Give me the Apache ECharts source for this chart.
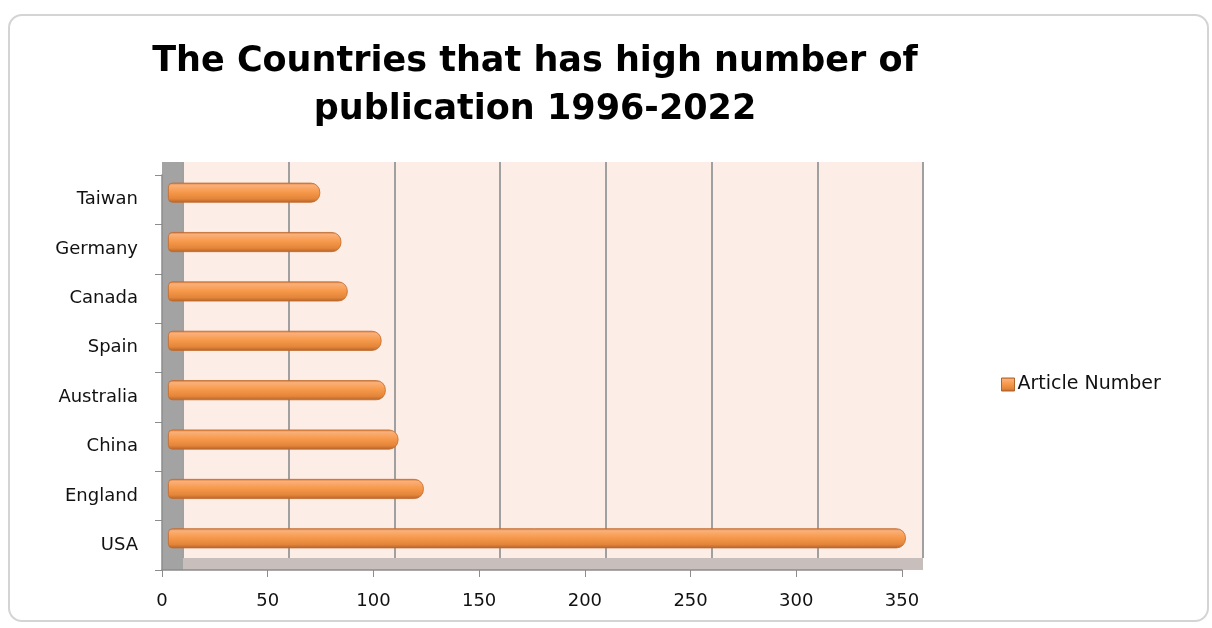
<!DOCTYPE html>
<html><head><meta charset="utf-8">
<script src="https://cdn.jsdelivr.net/npm/echarts@6/dist/echarts.min.js"></script>
<style>
html,body{margin:0;padding:0;background:#fff;}
#c{width:1212px;height:628px;position:absolute;left:0;top:0;}
#frame{position:absolute;left:8px;top:14px;width:1197px;height:604px;border:2px solid #d4d4d4;border-radius:14px;pointer-events:none;}
</style></head>
<body>
<div id="c"></div>
<div id="frame"></div>
<script>
const titleText = 'The Countries that has high number of\npublication 1996-2022';
const categories = ['USA','England','China','Australia','Spain','Canada','Germany','Taiwan'];
const articleNumber = [349, 121, 109, 103, 101, 85, 82, 72];
const seriesName = 'Article Number';
const axisMin = 0, axisMax = 350, axisStep = 50;

const chart = echarts.init(document.getElementById('c'));
const labelFont = {fontFamily:'DejaVu Sans, sans-serif', fontSize:18, color:'#111'};
chart.setOption({
  backgroundColor:'#fff',
  animation:false,
  title:{text:titleText,left:530,textAlign:'center',top:33,
    textStyle:{fontFamily:'DejaVu Sans, sans-serif',fontWeight:'bold',fontSize:35,lineHeight:48,color:'#000'}},
  legend:{show:true,data:[seriesName],left:996,top:370,icon:'rect',itemWidth:13,itemHeight:13,itemGap:4,
    textStyle:Object.assign({},labelFont,{fontSize:19,padding:[0,0,0,-2]}),
    itemStyle:{borderColor:'#b0652a',borderWidth:1}},
  grid:[
    {left:162,top:162,right:289,bottom:58,show:true,backgroundColor:'#c8bfbc',borderWidth:0},
    {left:162,top:162,width:21,bottom:58,show:true,backgroundColor:'#a3a3a3',borderWidth:0},
    {left:183,top:162,right:289,bottom:70,show:true,backgroundColor:'#fcede6',borderWidth:0},
    {left:162,top:175,width:740,bottom:58},
    {left:168,top:168,width:740,bottom:65}
  ],
  xAxis:[
    {gridIndex:0,show:false,min:axisMin,max:axisMax},
    {gridIndex:1,show:false,min:axisMin,max:axisMax},
    {gridIndex:2,min:axisMin,max:axisMax,interval:axisStep,axisLabel:{show:false},axisLine:{show:false},axisTick:{show:false},
      splitLine:{show:true,lineStyle:{color:'#a0a0a0',width:2}}},
    {gridIndex:3,min:axisMin,max:axisMax,interval:axisStep,position:'bottom',
      axisLine:{show:true,lineStyle:{color:'#8c8c8c',width:1.5}},
      axisTick:{show:true,length:7,lineStyle:{color:'#8c8c8c'}},
      axisLabel:Object.assign({margin:22},labelFont),splitLine:{show:false}},
    {gridIndex:4,show:false,min:axisMin,max:axisMax}
  ],
  yAxis:[
    {gridIndex:0,show:false,type:'category',data:categories},
    {gridIndex:1,show:false,type:'category',data:categories},
    {gridIndex:2,show:false,type:'category',data:categories},
    {gridIndex:3,type:'category',data:categories,boundaryGap:true,
      axisLine:{show:true,lineStyle:{color:'#8c8c8c',width:1.5}},
      axisTick:{show:true,length:7,lineStyle:{color:'#8c8c8c'}},
      axisLabel:Object.assign({margin:24},labelFont)},
    {gridIndex:4,show:false,type:'category',data:categories}
  ],
  series:[{
    name:seriesName,type:'bar',xAxisIndex:4,yAxisIndex:4,data:articleNumber,barWidth:20,
    itemStyle:{
      color:new echarts.graphic.LinearGradient(0,0,0,1,[
        {offset:0,color:'#d27530'},{offset:0.12,color:'#fab07a'},{offset:0.45,color:'#f79a4c'},
        {offset:0.8,color:'#e4863a'},{offset:1,color:'#b5622a'}]),
      borderColor:'#c06a2c',borderWidth:0.8,borderRadius:[4,9,9,4]
    }
  }]
});
</script>
</body></html>
